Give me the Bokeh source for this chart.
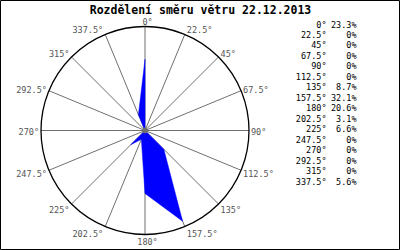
import math
from bokeh.plotting import figure, ColumnDataSource
from bokeh.models import Range1d
from bokeh.core.properties import value
from bokeh.embed import file_html
from bokeh.resources import INLINE

# ---- data ----
TITLE = "Rozdělení směru větru 22.12.2013"
ANGLES = [0, 22.5, 45, 67.5, 90, 112.5, 135, 157.5, 180, 202.5, 225, 247.5, 270, 292.5, 315, 337.5]
VALUES = [23.3, 0, 0, 0, 0, 0, 8.7, 32.1, 20.6, 3.1, 6.6, 0, 0, 0, 0, 5.6]
DIR_LABELS = ["0°", "22.5°", "45°", "67.5°", "90°", "112.5°", "135°", "157.5°",
              "180°", "202.5°", "225°", "247.5°", "270°", "292.5°", "315°", "337.5°"]
PCT_LABELS = ["23.3%", "0%", "0%", "0%", "0%", "0%", "8.7%", "32.1%",
              "20.6%", "3.1%", "6.6%", "0%", "0%", "0%", "0%", "5.6%"]
R_MAX = 34.0  # value at the outer circle

# ---- layout ----
W, H = 400, 250
CX, CY = 144.5, 130.0      # centre in pixels
R_PX = 104.0               # circle radius in pixels
S = R_PX / R_MAX           # pixels per unit

def px_to_data(px, py):
    return (px - CX) / S, (CY - py) / S

p = figure(width=W, height=H, output_backend="svg", toolbar_location=None,
           x_range=Range1d(-CX / S, (W - CX) / S), y_range=Range1d(-(H - CY) / S, CY / S),
           min_border=0, min_border_left=0, min_border_right=0, min_border_top=0, min_border_bottom=0)
p.axis.visible = False
p.xgrid.visible = False
p.ygrid.visible = False
p.outline_line_color = "black"
p.outline_line_width = 1
p.background_fill_color = "white"
p.border_fill_color = "white"

th = [math.radians(a) for a in ANGLES]

# spokes
p.segment(x0=[0] * 16, y0=[0] * 16,
          x1=[R_MAX * math.sin(t) for t in th], y1=[R_MAX * math.cos(t) for t in th],
          line_color="#707070", line_width=1)

# rose polygon
px_ = [v * math.sin(t) for v, t in zip(VALUES, th)]
py_ = [v * math.cos(t) for v, t in zip(VALUES, th)]
p.patch(px_, py_, fill_color="#0000ff", line_color="#0000ff", line_width=0.5)

# centre dot
p.scatter([0], [0], size=5, fill_color="#707070", line_color="#707070")

# circle
p.circle(x=[0], y=[0], radius=R_MAX, fill_color=None, line_color="black", line_width=1.3)

# direction labels
groups = {"left": ([], [], []), "right": ([], [], []), "center": ([], [], [])}
for a, t, lab in zip(ANGLES, th, DIR_LABELS):
    s_, c_ = math.sin(t), math.cos(t)
    if s_ > 0.1:
        al, dx = "left", 2.0
    elif s_ < -0.1:
        al, dx = "right", -2.0
    else:
        al, dx = "center", 2.5
    dy = 1.5 - 6.0 * c_
    x = R_MAX * s_ + dx / S
    y = R_MAX * c_ - dy / S
    groups[al][0].append(x)
    groups[al][1].append(y)
    groups[al][2].append(lab)
for al, (xs, ys, ts) in groups.items():
    p.text(x=xs, y=ys, text=ts, text_align=al, text_baseline="middle",
           text_font=value("DejaVu Sans Mono"), text_font_size="8.5px", text_color="#555555")

# legend table on the right
ly = [24.0 + i * 10.47 for i in range(len(ANGLES))]
deg_x, _ = px_to_data(326, 0)
pct_x, _ = px_to_data(356, 0)
ydat = [px_to_data(0, v)[1] for v in ly]
p.text(x=[deg_x] * 16, y=ydat, text=DIR_LABELS, text_align="right", text_baseline="middle",
       text_font=value("DejaVu Sans Mono"), text_font_size="8.5px", text_color="black")
p.text(x=[pct_x] * 16, y=ydat, text=PCT_LABELS, text_align="right", text_baseline="middle",
       text_font=value("DejaVu Sans Mono"), text_font_size="8.5px", text_color="black")

# title
tx, ty = px_to_data(200, 9.5)
p.text(x=[tx], y=[ty], text=[TITLE], text_align="center", text_baseline="middle",
       text_font=value("DejaVu Sans Mono"), text_font_size="11.5px", text_font_style="bold",
       text_color="black")

open("out.html", "w").write(file_html(p, INLINE))
